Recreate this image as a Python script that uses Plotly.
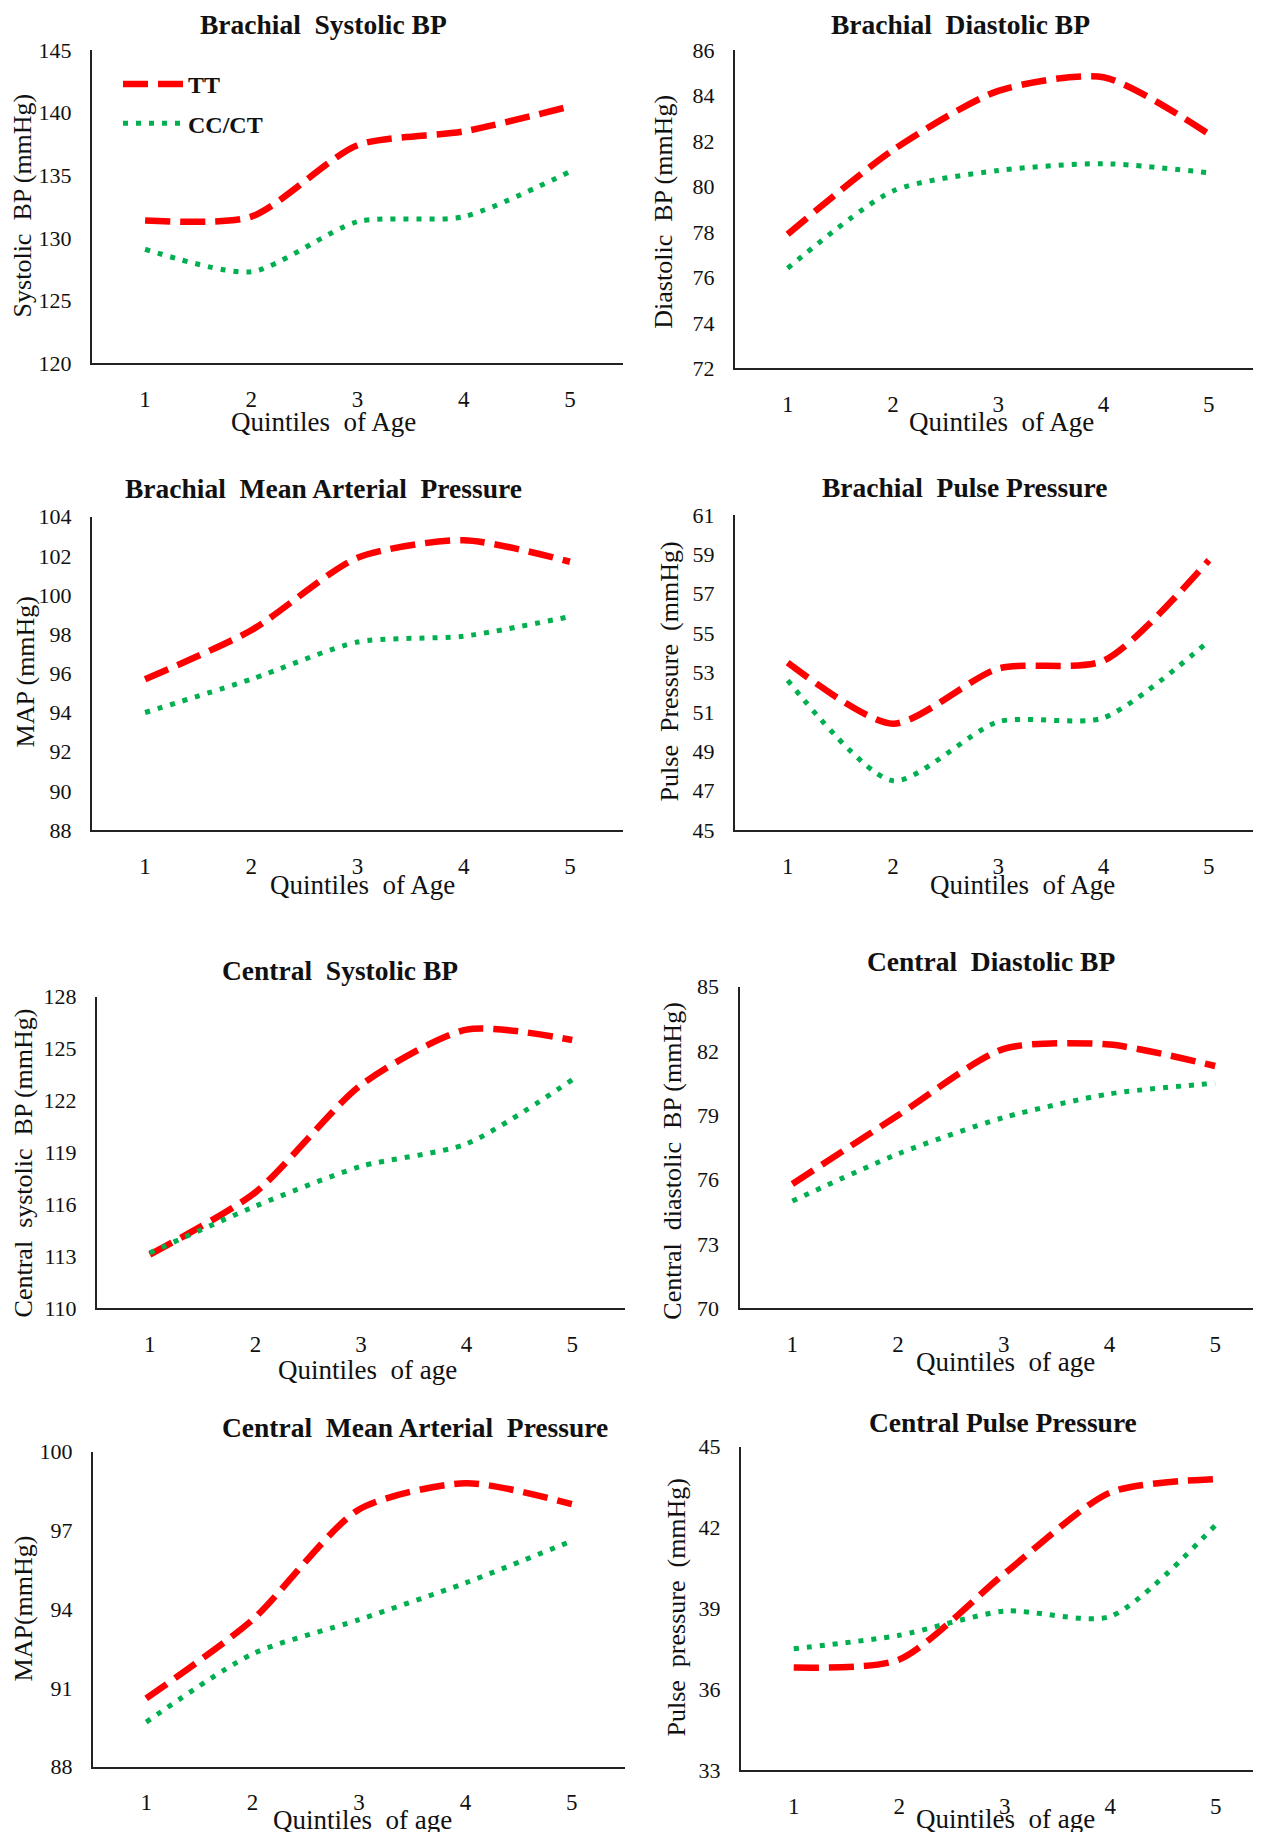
import plotly.graph_objects as go

# ---------------- data ----------------
quintiles = [1, 2, 3, 4, 5]
series_names = ["TT", "CC/CT"]

bsbp_tt = [131.4, 131.7, 137.4, 138.5, 140.5]
bsbp_cc = [129.1, 127.3, 131.3, 131.7, 135.3]

bdbp_tt = [77.9, 81.6, 84.2, 84.8, 82.3]
bdbp_cc = [76.4, 79.8, 80.7, 81.0, 80.6]

bmap_tt = [95.7, 98.2, 101.9, 102.8, 101.7]
bmap_cc = [94.0, 95.7, 97.6, 97.9, 98.9]

bpp_tt = [53.5, 50.4, 53.2, 53.6, 58.7]
bpp_cc = [52.6, 47.5, 50.5, 50.7, 54.6]

csbp_tt = [113.1, 116.7, 122.9, 126.1, 125.5]
csbp_cc = [113.2, 115.9, 118.2, 119.5, 123.2]

cdbp_tt = [75.8, 79.0, 82.1, 82.3, 81.3]
cdbp_cc = [75.0, 77.2, 78.9, 80.0, 80.5]

cmap_tt = [90.6, 93.6, 97.8, 98.8, 98.0]
cmap_cc = [89.7, 92.3, 93.6, 95.0, 96.6]

cpp_tt = [36.8, 37.1, 40.3, 43.3, 43.8]
cpp_cc = [37.5, 38.0, 38.9, 38.7, 42.1]

titles = ["Brachial\u00a0 Systolic BP", "Brachial\u00a0 Diastolic BP",
          "Brachial\u00a0 Mean Arterial\u00a0 Pressure", "Brachial\u00a0 Pulse Pressure",
          "Central\u00a0 Systolic BP", "Central\u00a0 Diastolic BP",
          "Central\u00a0 Mean Arterial\u00a0 Pressure", "Central Pulse Pressure"]
ytitles = ["Systolic\u00a0 BP (mmHg)", "Diastolic\u00a0 BP (mmHg)",
           "MAP (mmHg)", "Pulse\u00a0 Pressure\u00a0 (mmHg)",
           "Central\u00a0 systolic\u00a0 BP (mmHg)", "Central\u00a0 diastolic\u00a0 BP (mmHg)",
           "MAP(mmHg)", "Pulse\u00a0 pressure\u00a0 (mmHg)"]
xtitles = ["Quintiles\u00a0 of Age"] * 4 + ["Quintiles\u00a0 of age"] * 4
tt_values = [bsbp_tt, bdbp_tt, bmap_tt, bpp_tt, csbp_tt, cdbp_tt, cmap_tt, cpp_tt]
cc_values = [bsbp_cc, bdbp_cc, bmap_cc, bpp_cc, csbp_cc, cdbp_cc, cmap_cc, cpp_cc]
y_ranges = [[120, 145], [72, 86], [88, 104], [45, 61],
            [110, 128], [70, 85], [88, 100], [33, 45]]
y_dticks = [5, 2, 2, 2, 3, 3, 3, 3]

# ---------------- layout geometry (screen pixels) ----------------
W, H = 1261, 1832
OFF = 8  # page body margin: figure pixel = screen pixel - OFF

def px(s):
    return (s - OFF) / W

def py(s):
    return 1 - (s - OFF) / H

# (left, right, top, bottom) of each plot area
boxes = [(92, 623, 50, 363.3), (735, 1261, 50, 368.3),
         (92, 623, 516.7, 830), (735, 1261, 515, 830),
         (97, 625, 996.7, 1308.3), (739.5, 1261, 986.7, 1308.3),
         (93, 625, 1451.7, 1766.7), (741, 1261, 1446.7, 1770)]
cat_w = [106.2, 105.3, 106.2, 105.3, 105.6, 105.7, 106.4, 105.5]
title_pos = [(323.7, 24), (960.7, 24), (323.7, 489), (964, 488),
             (340, 970), (991, 962), (415, 1427), (1002.7, 1422)]
ytitle_pos = [(23.4, 205), (664, 211.7), (25.7, 671.7), (669.7, 671.7),
              (23.4, 1163), (673, 1160.7), (23.4, 1608), (675.5, 1607)]
xtitle_pos = [(323.7, 421.7), (1001.6, 421.7), (362.3, 885), (1022.6, 885),
              (367, 1370), (1005, 1361.7), (362, 1820), (1005, 1819)]

FONT = "Liberation Serif, Times New Roman, serif"
RED = "#FF0000"
GREEN = "#00B050"

fig = go.Figure()
annotations = []
layout_axes = {}

for i in range(8):
    n = i + 1
    xa = "x" if n == 1 else f"x{n}"
    ya = "y" if n == 1 else f"y{n}"
    l, r, t, b = boxes[i]
    x_end = 0.5 + (r - l) / cat_w[i]
    fig.add_trace(go.Scatter(
        x=quintiles, y=tt_values[i], name=series_names[0], mode="lines",
        line=dict(color=RED, width=6.5, dash="25px,10px", shape="spline", smoothing=0.7),
        xaxis=xa, yaxis=ya, showlegend=(i == 0), legendgroup="tt"))
    fig.add_trace(go.Scatter(
        x=quintiles, y=cc_values[i], name=series_names[1], mode="lines",
        line=dict(color=GREEN, width=5, dash="5px,8px", shape="spline", smoothing=0.7),
        xaxis=xa, yaxis=ya, showlegend=(i == 0), legendgroup="cc"))

    xkey = "xaxis" if n == 1 else f"xaxis{n}"
    ykey = "yaxis" if n == 1 else f"yaxis{n}"
    layout_axes[xkey] = dict(
        domain=[max(0, px(l)), min(1, px(r))], anchor=ya,
        range=[0.5, 0.5 + (min(W + OFF, r) - l) / cat_w[i]], automargin=False,
        tickmode="array", tickvals=quintiles, ticktext=[str(q) for q in quintiles],
        showline=True, linecolor="#222", linewidth=2, showgrid=False, zeroline=False,
        ticks="", ticklabelstandoff=14,
        tickfont=dict(family=FONT, size=23, color="#111"), fixedrange=True)
    layout_axes[ykey] = dict(
        domain=[py(b), py(t)], anchor=xa, range=y_ranges[i], automargin=False,
        tickmode="linear", tick0=y_ranges[i][0], dtick=y_dticks[i],
        showline=True, linecolor="#222", linewidth=2, showgrid=False, zeroline=False,
        ticks="", ticklabelstandoff=14,
        tickfont=dict(family=FONT, size=22, color="#111"), fixedrange=True)

    tx, ty = title_pos[i]
    annotations.append(dict(text=f"<b>{titles[i]}</b>", x=px(tx), y=py(ty),
                            xref="paper", yref="paper", showarrow=False,
                            xanchor="center", yanchor="middle",
                            font=dict(family=FONT, size=27.5, color="#111")))
    yx, yy = ytitle_pos[i]
    annotations.append(dict(text=ytitles[i], x=px(yx), y=py(yy),
                            xref="paper", yref="paper", showarrow=False, textangle=-90,
                            xanchor="center", yanchor="middle",
                            font=dict(family=FONT, size=26, color="#111")))
    xx, xy = xtitle_pos[i]
    annotations.append(dict(text=xtitles[i], x=px(xx), y=py(xy),
                            xref="paper", yref="paper", showarrow=False,
                            xanchor="center", yanchor="middle",
                            font=dict(family=FONT, size=27, color="#111")))

fig.update_layout(
    width=W, height=H, margin=dict(l=0, r=0, t=0, b=0, autoexpand=False),
    paper_bgcolor="white", plot_bgcolor="white",
    annotations=annotations,
    showlegend=True,
    legend=dict(x=px(118), y=py(62), xanchor="left", yanchor="top",
                bgcolor="rgba(0,0,0,0)", borderwidth=0, tracegroupgap=5,
                itemwidth=60,
                font=dict(family=FONT, size=24, color="#111", weight="bold")),
    **layout_axes,
)

fig.write_html("out.html")
